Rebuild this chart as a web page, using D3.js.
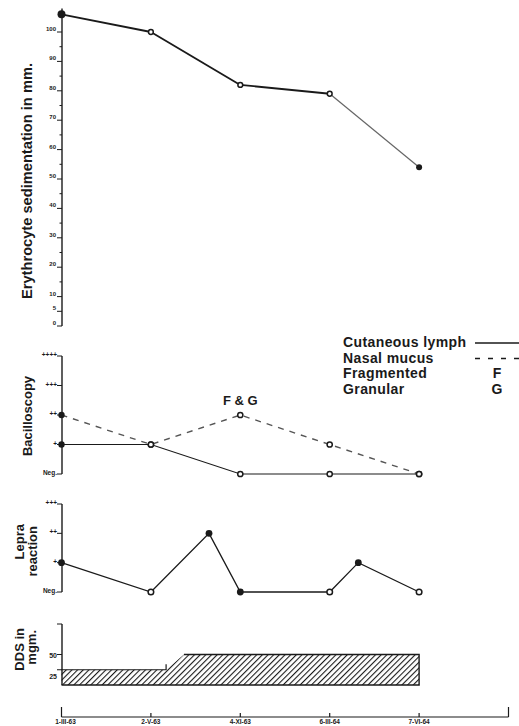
<!DOCTYPE html>
<html>
<head>
<meta charset="utf-8">
<script src="https://cdn.jsdelivr.net/npm/d3@7"></script>
<style>
  body { margin: 0; background: #fff; }
  text { font-family: "Liberation Sans", Arial, sans-serif; font-weight: bold; fill: #1a1a1a; }
</style>
</head>
<body>
<script>
// dates of examination (bottom axis), one slot per visit
var dates = ["1-III-63", "2-V-63", "4-XI-63", "6-III-64", "7-VI-64"];

// erythrocyte sedimentation, mm
var esr = [106, 100, 82, 79, 54];
var esrFilled = [true, false, false, false, true];
var esrLabels = [0, 5, 10, 20, 30, 40, 50, 60, 70, 80, 90, 100];
var esrMinor = [15, 25, 35, 45, 55, 65, 75, 85, 95];

// bacilloscopy, level 0 = Neg. ... 4 = ++++
var bacLabels = ["Neg.", "+", "++", "+++", "++++"];
var cutaneous = [1, 1, 0, 0, 0];
var cutaneousFilled = [true, false, false, false, false];
var nasal = [2, 1, 2, 1, 0];
var nasalFilled = [true, false, false, false, false];

// lepra reaction, position in visit slots, level 0 = Neg. ... 3 = +++
var lepraLabels = ["Neg.", "+", "++", "+++"];
var lepraPos = [0, 1, 1.65, 2, 3, 3.32, 4];
var lepraLevel = [1, 0, 2, 0, 0, 1, 0];
var lepraFilled = [true, false, true, true, false, true, false];

// DDS dose in mgm.
var ddsPos = [0, 1.17, 1.37, 4];
var ddsDose = [25, 25, 50, 50];
var ddsTicks = [25, 50];

var legendNames = ["Cutaneous lymph", "Nasal mucus", "Fragmented", "Granular"];

var ink = "#1a1a1a";

var svg = d3.select("body").append("svg").attr("width", 519).attr("height", 726);

var x = d3.scaleLinear().domain([0, 5]).range([61.5, 508.5]);
var axisX = 62;

function marker(g, cx, cy, filled, r) {
  g.append("circle")
    .attr("cx", cx).attr("cy", cy)
    .attr("r", filled ? r : r - 0.6)
    .attr("fill", filled ? ink : "#fff")
    .attr("stroke", ink)
    .attr("stroke-width", filled ? 0 : 1.5);
}

// ---------- erythrocyte sedimentation ----------
var yE = d3.scaleLinear().domain([0, 100]).range([326, 32]);
var gE = svg.append("g");
gE.append("line").attr("x1", axisX).attr("x2", axisX).attr("y1", yE(0)).attr("y2", yE(108))
  .attr("stroke", ink).attr("stroke-width", 1.4);
gE.selectAll("line.maj").data(esrLabels).enter().append("line")
  .attr("x1", axisX - 5).attr("x2", axisX).attr("y1", function (d) { return yE(d); }).attr("y2", function (d) { return yE(d); })
  .attr("stroke", ink).attr("stroke-width", 1);
gE.selectAll("line.min").data(esrMinor).enter().append("line")
  .attr("x1", axisX - 2.5).attr("x2", axisX).attr("y1", function (d) { return yE(d); }).attr("y2", function (d) { return yE(d); })
  .attr("stroke", ink).attr("stroke-width", 1);
gE.selectAll("text.tk").data(esrLabels).enter().append("text")
  .attr("x", axisX - 6).attr("y", function (d) { return yE(d) - 1; })
  .attr("text-anchor", "end").style("font-size", "6px")
  .text(function (d) { return d; });

d3.pairs(esr.map(function (v, i) { return [x(i), yE(v)]; })).forEach(function (p, i) {
  gE.append("line")
    .attr("x1", p[0][0]).attr("y1", p[0][1]).attr("x2", p[1][0]).attr("y2", p[1][1])
    .attr("stroke", i < 3 ? ink : "#666").attr("stroke-width", i < 3 ? 1.8 : 1.2);
});
esr.forEach(function (v, i) { marker(gE, x(i), yE(v), esrFilled[i], i === 0 ? 4 : 3); });

gE.append("text")
  .attr("transform", "translate(32," + 181 + ") rotate(-90)")
  .attr("text-anchor", "middle").style("font-size", "14px")
  .attr("textLength", 236).attr("lengthAdjust", "spacingAndGlyphs")
  .text("Erythrocyte sedimentation in mm.");

// ---------- bacilloscopy ----------
var yB = d3.scaleLinear().domain([0, 4]).range([474, 356]);
var gB = svg.append("g");
gB.append("line").attr("x1", axisX).attr("x2", axisX).attr("y1", yB(0)).attr("y2", yB(4))
  .attr("stroke", ink).attr("stroke-width", 1.4);
gB.selectAll("line.tk").data(d3.range(bacLabels.length)).enter().append("line")
  .attr("x1", axisX - 5).attr("x2", axisX).attr("y1", function (d) { return yB(d); }).attr("y2", function (d) { return yB(d); })
  .attr("stroke", ink).attr("stroke-width", 1);
gB.selectAll("text.tk").data(bacLabels).enter().append("text")
  .attr("x", axisX - 5).attr("y", function (d, i) { return yB(i) + 1; })
  .attr("text-anchor", "end").style("font-size", "6.5px")
  .text(function (d) { return d; });

var lineB = d3.line().x(function (d, i) { return x(i); }).y(function (d) { return yB(d); });
gB.append("path").attr("d", lineB(nasal)).attr("fill", "none")
  .attr("stroke", "#555").attr("stroke-width", 1.4).attr("stroke-dasharray", "6,6");
gB.append("path").attr("d", lineB(cutaneous)).attr("fill", "none")
  .attr("stroke", ink).attr("stroke-width", 1.1);
nasal.forEach(function (v, i) { marker(gB, x(i), yB(v), nasalFilled[i], 3.2); });
cutaneous.forEach(function (v, i) { marker(gB, x(i), yB(v), cutaneousFilled[i], 3.2); });

gB.append("text").attr("x", x(2)).attr("y", yB(nasal[2]) - 10)
  .attr("text-anchor", "middle").style("font-size", "13px").text("F & G");

gB.append("text")
  .attr("transform", "translate(32," + 416 + ") rotate(-90)")
  .attr("text-anchor", "middle").style("font-size", "13px")
  .text("Bacilloscopy");

// legend
var gL = svg.append("g");
gL.selectAll("text").data(legendNames).enter().append("text")
  .attr("x", 343).attr("y", function (d, i) { return 347 + i * 15.7; })
  .style("font-size", "14px").style("letter-spacing", "0.4px")
  .text(function (d) { return d; });
gL.append("line").attr("x1", 475).attr("x2", 519).attr("y1", 343).attr("y2", 343)
  .attr("stroke", ink).attr("stroke-width", 1.3);
gL.append("line").attr("x1", 475).attr("x2", 519).attr("y1", 358.5).attr("y2", 358.5)
  .attr("stroke", ink).attr("stroke-width", 1.3).attr("stroke-dasharray", "5,8");
gL.append("text").attr("x", 497).attr("y", 378.4).attr("text-anchor", "middle").style("font-size", "14px").text("F");
gL.append("text").attr("x", 497).attr("y", 394.1).attr("text-anchor", "middle").style("font-size", "14px").text("G");

// ---------- lepra reaction ----------
var yR = d3.scaleLinear().domain([0, 3]).range([592, 504]);
var gR = svg.append("g");
gR.append("line").attr("x1", axisX).attr("x2", axisX).attr("y1", yR(0)).attr("y2", yR(3))
  .attr("stroke", ink).attr("stroke-width", 1.4);
gR.selectAll("line.tk").data(d3.range(lepraLabels.length)).enter().append("line")
  .attr("x1", axisX - 5).attr("x2", axisX).attr("y1", function (d) { return yR(d); }).attr("y2", function (d) { return yR(d); })
  .attr("stroke", ink).attr("stroke-width", 1);
gR.selectAll("text.tk").data(lepraLabels).enter().append("text")
  .attr("x", axisX - 5).attr("y", function (d, i) { return yR(i) + 1; })
  .attr("text-anchor", "end").style("font-size", "6.5px")
  .text(function (d) { return d; });

var lineR = d3.line().x(function (d) { return x(d[0]); }).y(function (d) { return yR(d[1]); });
gR.append("path").attr("d", lineR(d3.zip(lepraPos, lepraLevel))).attr("fill", "none")
  .attr("stroke", ink).attr("stroke-width", 1.3);
lepraPos.forEach(function (p, i) { marker(gR, x(p), yR(lepraLevel[i]), lepraFilled[i], 3.4); });

gR.append("text").attr("transform", "translate(24,524) rotate(-90)")
  .attr("text-anchor", "end").style("font-size", "13px").text("Lepra");
gR.append("text").attr("transform", "translate(37,526) rotate(-90)")
  .attr("text-anchor", "end").style("font-size", "13px").text("reaction");

// ---------- DDS ----------
var yD = d3.scaleLinear().domain([0, 100]).range([685, 624]);
var gD = svg.append("g");
var defs = svg.append("defs");
defs.append("pattern").attr("id", "hatch").attr("patternUnits", "userSpaceOnUse")
  .attr("width", 4).attr("height", 4).attr("patternTransform", "rotate(45)")
  .append("line").attr("x1", 0).attr("y1", 0).attr("x2", 0).attr("y2", 4)
  .attr("stroke", ink).attr("stroke-width", 2.2);

var areaD = d3.area().x(function (d) { return x(d[0]); }).y0(yD(0)).y1(function (d) { return yD(d[1]); });
gD.append("path").attr("d", areaD(d3.zip(ddsPos, ddsDose))).attr("fill", "url(#hatch)");

var outline = d3.line().x(function (d) { return x(d[0]); }).y(function (d) { return yD(d[1]); });
gD.append("path").attr("d", outline([[ddsPos[0], ddsDose[0]], [ddsPos[1], ddsDose[1]], [ddsPos[1], ddsDose[1] + 9]]))
  .attr("fill", "none").attr("stroke", ink).attr("stroke-width", 1.2);
gD.append("path").attr("d", outline([[ddsPos[2], ddsDose[2]], [ddsPos[3], ddsDose[3]], [ddsPos[3], 0], [ddsPos[0], 0]]))
  .attr("fill", "none").attr("stroke", ink).attr("stroke-width", 1.4);

gD.append("line").attr("x1", axisX).attr("x2", axisX).attr("y1", yD(0)).attr("y2", yD(100))
  .attr("stroke", ink).attr("stroke-width", 1.4);
gD.selectAll("line.tk").data(ddsTicks.concat([100])).enter().append("line")
  .attr("x1", axisX - 5).attr("x2", axisX).attr("y1", function (d) { return yD(d); }).attr("y2", function (d) { return yD(d); })
  .attr("stroke", ink).attr("stroke-width", 1);
gD.selectAll("text.tk").data(ddsTicks).enter().append("text")
  .attr("x", axisX - 5).attr("y", function (d) { return yD(d) + (d === 25 ? 9 : 3); })
  .attr("text-anchor", "end").style("font-size", "7px")
  .text(function (d) { return d; });

gD.append("text").attr("transform", "translate(24,628) rotate(-90)")
  .attr("text-anchor", "end").style("font-size", "13px").text("DDS in");
gD.append("text").attr("transform", "translate(36,630) rotate(-90)")
  .attr("text-anchor", "end").style("font-size", "13px").text("mgm.");

// ---------- bottom date axis ----------
var gX = svg.append("g");
var axisY = 717;
gX.append("line").attr("x1", x(0)).attr("x2", x(5)).attr("y1", axisY).attr("y2", axisY)
  .attr("stroke", ink).attr("stroke-width", 1.2);
gX.selectAll("line.tk").data(d3.range(6)).enter().append("line")
  .attr("x1", function (d) { return x(d); }).attr("x2", function (d) { return x(d); })
  .attr("y1", axisY).attr("y2", function (d) { return (d === 0 || d === 5) ? axisY - 10 : axisY - 4; })
  .attr("stroke", ink).attr("stroke-width", 1.2);
gX.selectAll("text.tk").data(dates).enter().append("text")
  .attr("x", function (d, i) { return x(i) + (i === 0 ? 4 : 0); }).attr("y", axisY + 7)
  .attr("text-anchor", "middle").style("font-size", "6.5px")
  .text(function (d) { return d; });
</script>
</body>
</html>
